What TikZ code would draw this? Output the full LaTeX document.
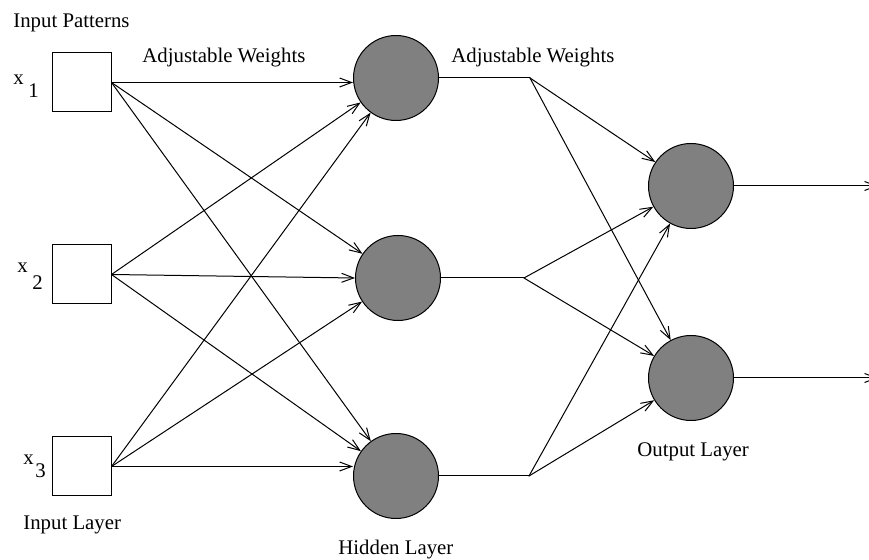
\documentclass[tikz,border=0pt]{standalone}
\usepackage{fontspec}
\setmainfont{Liberation Serif}
\usepackage{tikz}
\usetikzlibrary{arrows.meta}
\tikzset{
  wire/.style={draw=black, line width=0.5pt, line cap=round, line join=round},
  arr/.style={wire, -{Straight Barb[length=6pt,width=4.5pt]}},
  inbox/.style={draw=black, line width=0.5pt, fill=white, minimum size=29.5pt, inner sep=0pt},
  unit/.style={circle, draw=black, line width=0.5pt, fill=gray, minimum size=42.5pt, inner sep=0pt},
  lab/.style={font=\fontsize{10.4}{12}\selectfont, inner sep=0pt, anchor=base west},
}

\begin{document}
\begin{tikzpicture}[x=0.5pt,y=-0.5pt]
  \useasboundingbox (0,0) rectangle (869,560);
  % input layer
  \node[inbox] (in1) at (81.5,82.5) {};
  \node[inbox] (in2) at (81.5,274.5) {};
  \node[inbox] (in3) at (81.5,466.5) {};
  % hidden and output layer
  \node[unit] (hid1) at (396,78) {};
  \node[unit] (hid2) at (398,278) {};
  \node[unit] (hid3) at (396,476) {};
  \node[unit] (out1) at (691,186) {};
  \node[unit] (out2) at (691,378) {};
  \coordinate (sp1) at (530,78);
  \coordinate (sp2) at (524,278);
  \coordinate (sp3) at (529,476);
  \coordinate (y1) at (878,186);
  \coordinate (y2) at (878,378);
  % weights input -> hidden
  \draw[arr] (in1.east)--(in1.east -| hid1.west); \draw[arr] (in1.east)--(hid2); \draw[arr] (in1.east)--(hid3);
  \draw[arr] (in2.east)--(hid1); \draw[arr] (in2.east)--(hid2.west); \draw[arr] (in2.east)--(hid3);
  \draw[arr] (in3.east)--(hid1); \draw[arr] (in3.east)--(hid2); \draw[arr] (in3.east)--(in3.east -| hid3.west);
  % weights hidden -> output
  \draw[wire] (hid1)--(sp1) (hid2)--(sp2) (hid3)--(sp3);
  \draw[arr] (sp1)--(out1); \draw[arr] (sp1)--(out2);
  \draw[arr] (sp2)--(out1); \draw[arr] (sp2)--(out2);
  \draw[arr] (sp3)--(out1); \draw[arr] (sp3)--(out2);
  \draw[arr] (out1)--(y1); \draw[arr] (out2)--(y2);
  % labels
  \node[lab] (patt) at (13,28) {Input Patterns};
  \node[lab] (adj1) at (142,63) {Adjustable Weights};
  \node[lab] (adj2) at (451,63) {Adjustable Weights};
  \node[lab] (xa) at (13,85) {x};  \node[lab] (na) at (28,98) {1};
  \node[lab] (xb) at (17,273) {x}; \node[lab] (nb) at (32,290) {2};
  \node[lab] (xc) at (23,465) {x}; \node[lab] (nc) at (35,478) {3};
  \node[lab] (inl) at (23,530) {Input Layer};
  \node[lab] (hidl) at (338,555) {Hidden Layer};
  \node[lab] (outl) at (637,457) {Output Layer};
\end{tikzpicture}
\end{document}
